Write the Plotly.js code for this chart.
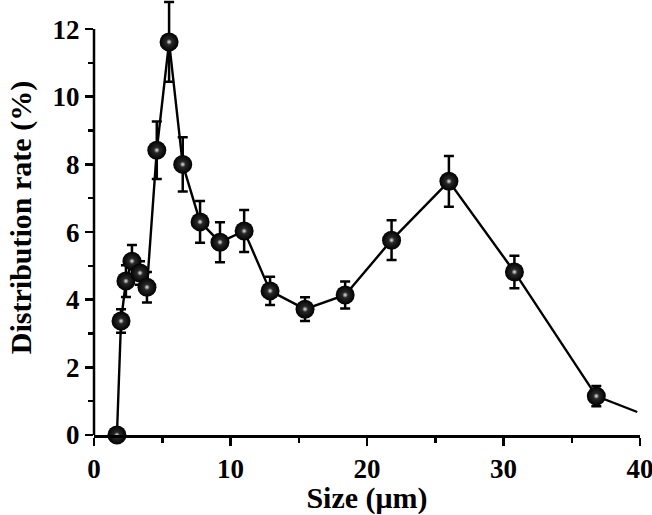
<!DOCTYPE html>
<html>
<head>
<meta charset="utf-8">
<script src="https://cdn.plot.ly/plotly-3.0.1.min.js"></script>
<style>html,body{margin:0;padding:0;background:#fff;}#chart{width:652px;height:515px;}</style>
</head>
<body>
<div id="chart"></div>
<script>
var size = [1.68, 1.98, 2.34, 2.78, 3.37, 3.88, 4.6, 5.5, 6.5, 7.77, 9.23, 11.0, 12.9, 15.46, 18.4, 21.8, 26.0, 30.8, 36.8, 39.8];
var rate = [0, 3.37, 4.55, 5.14, 4.79, 4.37, 8.42, 11.62, 8.0, 6.3, 5.7, 6.03, 4.26, 3.72, 4.14, 5.76, 7.5, 4.82, 1.15, 0.68];
var err  = [0, 0.35, 0.47, 0.48, 0.35, 0.45, 0.85, 1.18, 0.8, 0.62, 0.59, 0.62, 0.42, 0.35, 0.4, 0.59, 0.75, 0.48, 0.3, 0];
var nMarked = 19;
var xTicks = [0, 10, 20, 30, 40];
var yTicks = [0, 2, 4, 6, 8, 10, 12];

var tickFont = {family: 'Liberation Serif, Times New Roman, serif', size: 27, color: '#000', weight: 700};
var titleFont = {family: 'Liberation Serif, Times New Roman, serif', size: 30, color: '#000', weight: 700};

var mx = size.slice(0, nMarked), my = rate.slice(0, nMarked);

var lineTrace = {
  x: size, y: rate, type: 'scatter', mode: 'lines',
  line: {color: '#000', width: 2.4}, hoverinfo: 'skip'
};
var markerTrace = {
  x: mx, y: my, type: 'scatter', mode: 'markers',
  marker: {size: 19, color: '#000', gradient: {type: 'radial', color: '#3a3a3a'}, line: {width: 0}},
  error_y: {type: 'data', array: err.slice(0, nMarked), visible: true, color: '#000', thickness: 2.5, width: 5},
  cliponaxis: false
};
var highlightTrace = {
  x: mx, y: my, type: 'scatter', mode: 'markers',
  marker: {size: 6, color: '#222', gradient: {type: 'radial', color: '#e8e8e8'}, line: {width: 0}},
  cliponaxis: false, hoverinfo: 'skip'
};

var layout = {
  width: 652, height: 515,
  margin: {l: 94, r: 12, t: 0, b: 80},
  showlegend: false,
  paper_bgcolor: '#fff', plot_bgcolor: '#fff',
  xaxis: {
    range: [0, 40], tickvals: xTicks, ticks: 'outside', ticklen: 8, tickwidth: 2.5, tickcolor: '#000',
    showline: true, linewidth: 2.5, linecolor: '#000', showgrid: false, zeroline: false,
    tickfont: tickFont, ticklabeloverflow: 'allow',
    minor: {dtick: 5, tick0: 0, ticks: 'outside', ticklen: 5, tickwidth: 2.5, tickcolor: '#000', showgrid: false},
    title: {text: 'Size (μm)', font: titleFont, standoff: 4}
  },
  yaxis: {
    range: [0, 12.86], tickvals: yTicks, ticks: 'outside', ticklen: 8, tickwidth: 2.5, tickcolor: '#000',
    showline: false, showgrid: false, zeroline: false,
    tickfont: tickFont,
    minor: {tickvals: [1, 3, 5, 7, 9, 11], ticks: 'outside', ticklen: 5, tickwidth: 2.5, tickcolor: '#000', showgrid: false},
    title: {text: 'Distribution rate (%)', font: titleFont, standoff: 12}
  },
  shapes: [{
    type: 'line', xref: 'paper', yref: 'y', x0: 0, x1: 0, y0: 0, y1: 12,
    line: {color: '#000', width: 2.5}, layer: 'above'
  }]
};

Plotly.newPlot('chart', [lineTrace, markerTrace, highlightTrace], layout, {displayModeBar: false, staticPlot: true});
</script>
</body>
</html>
